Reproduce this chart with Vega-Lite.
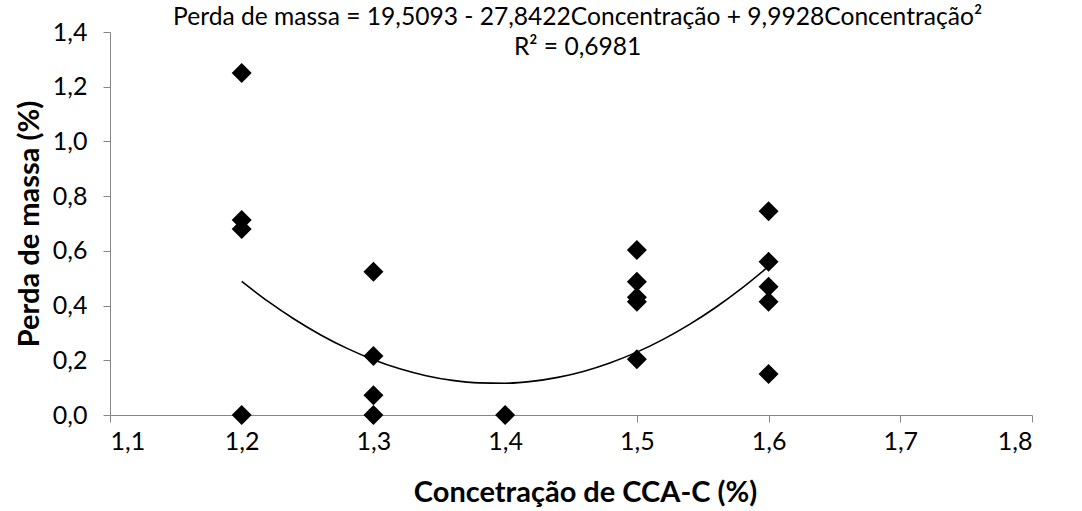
{
  "$schema": "https://vega.github.io/schema/vega-lite/v6.json",
  "autosize": {"type": "none"},
  "width": 922,
  "height": 383,
  "padding": {"left": 110, "top": 32, "right": 50, "bottom": 96},
  "background": "white",
  "config": {
    "view": {"stroke": null},
    "font": "Lato",
    "axis": {
      "grid": false,
      "domainColor": "#868686",
      "tickColor": "#868686",
      "tickSize": 7,
      "labelFont": "Lato",
      "labelFontSize": 25,
      "labelColor": "#000000",
      "titleFont": "Lato",
      "titleFontSize": 29,
      "titleFontWeight": "bold",
      "titleColor": "#000000"
    }
  },
  "datasets": {
    "pts": [
      {"c": 1.2, "p": 1.25}, {"c": 1.2, "p": 0.713}, {"c": 1.2, "p": 0.68}, {"c": 1.2, "p": 0.0},
      {"c": 1.3, "p": 0.524}, {"c": 1.3, "p": 0.216}, {"c": 1.3, "p": 0.072}, {"c": 1.3, "p": 0.0},
      {"c": 1.4, "p": 0.0},
      {"c": 1.5, "p": 0.603}, {"c": 1.5, "p": 0.487}, {"c": 1.5, "p": 0.43}, {"c": 1.5, "p": 0.414}, {"c": 1.5, "p": 0.204},
      {"c": 1.6, "p": 0.745}, {"c": 1.6, "p": 0.56}, {"c": 1.6, "p": 0.469}, {"c": 1.6, "p": 0.414}, {"c": 1.6, "p": 0.15}
    ],
    "fit": [
      {"c": 1.20, "p": 0.4883}, {"c": 1.22, "p": 0.4151}, {"c": 1.24, "p": 0.3499}, {"c": 1.26, "p": 0.2927},
      {"c": 1.28, "p": 0.2435}, {"c": 1.30, "p": 0.2023}, {"c": 1.32, "p": 0.1691}, {"c": 1.34, "p": 0.1438},
      {"c": 1.36, "p": 0.1266}, {"c": 1.38, "p": 0.1174}, {"c": 1.40, "p": 0.1161}, {"c": 1.42, "p": 0.1229},
      {"c": 1.44, "p": 0.1376}, {"c": 1.46, "p": 0.1603}, {"c": 1.48, "p": 0.1911}, {"c": 1.50, "p": 0.2298},
      {"c": 1.52, "p": 0.2765}, {"c": 1.54, "p": 0.3312}, {"c": 1.56, "p": 0.3939}, {"c": 1.58, "p": 0.4647},
      {"c": 1.60, "p": 0.5433}
    ],
    "eq": [
      {"c": 1.455, "p": 1.451, "t": "Perda de massa = 19,5093 - 27,8422Concentração + 9,9928Concentração²"},
      {"c": 1.455, "p": 1.341, "t": "R² = 0,6981"}
    ]
  },
  "layer": [
    {
      "data": {"name": "fit"},
      "mark": {"type": "line", "color": "#000000", "strokeWidth": 1.6, "interpolate": "monotone"},
      "encoding": {
        "x": {
          "field": "c", "type": "quantitative",
          "scale": {"domain": [1.1, 1.8], "nice": false, "zero": false},
          "axis": {
            "title": "Concetração de CCA-C (%)",
            "values": [1.1, 1.2, 1.3, 1.4, 1.5, 1.6, 1.7, 1.8],
            "labelExpr": "replace(format(datum.value, '.1f'), '.', ',')",
            "labelPadding": 7,
            "titlePadding": 24,
            "titleX": 475
          }
        },
        "y": {
          "field": "p", "type": "quantitative",
          "scale": {"domain": [0, 1.4], "nice": false},
          "axis": {
            "title": "Perda de massa (%)",
            "values": [0, 0.2, 0.4, 0.6, 0.8, 1.0, 1.2, 1.4],
            "labelExpr": "replace(format(datum.value, '.1f'), '.', ',')",
            "labelPadding": 16,
            "titlePadding": 8
          }
        }
      }
    },
    {
      "data": {"name": "pts"},
      "mark": {"type": "point", "shape": "diamond", "filled": true, "color": "#000000", "size": 400, "opacity": 1},
      "encoding": {
        "x": {"field": "c", "type": "quantitative"},
        "y": {"field": "p", "type": "quantitative"}
      }
    },
    {
      "data": {"name": "eq"},
      "mark": {"type": "text", "font": "Lato", "fontSize": 24.6, "color": "#000000", "align": "center", "baseline": "middle", "clip": false},
      "encoding": {
        "x": {"field": "c", "type": "quantitative"},
        "y": {"field": "p", "type": "quantitative"},
        "text": {"field": "t"}
      }
    }
  ]
}
